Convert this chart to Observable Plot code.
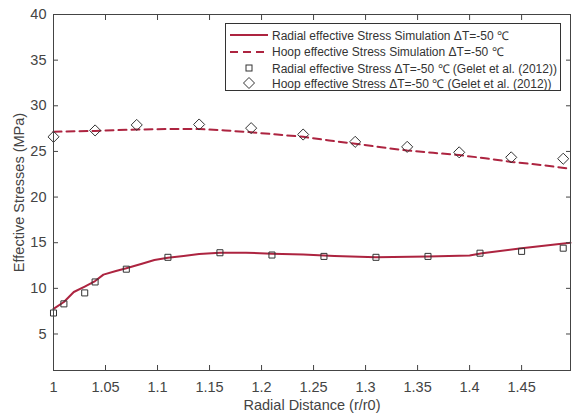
<!DOCTYPE html>
<html>
<head>
<meta charset="utf-8">
<script src="https://cdn.jsdelivr.net/npm/d3@7"></script>
<script src="https://cdn.jsdelivr.net/npm/@observablehq/plot@0.6"></script>
<style>
  html, body { margin: 0; padding: 0; background: #fff; }
  #wrap { position: relative; width: 577px; height: 413px; font-family: "Liberation Sans", Arial, sans-serif; }
  #legend { position: absolute; left: 225px; top: 23px; width: 336px; height: 68px; border: 1px solid #333; background: #fff; box-sizing: border-box; }
  .row { position: absolute; left: 0; height: 16px; display: flex; align-items: center; font-size: 12px; color: #333; white-space: nowrap; }
  .row svg { margin-left: 4px; margin-right: 4px; }
</style>
</head>
<body>
<div id="wrap"></div>
<script>
// Simulation curves
const radialSimX = [1.000, 1.010, 1.0195, 1.030, 1.040, 1.048, 1.060, 1.070, 1.085, 1.097, 1.110, 1.125, 1.140, 1.160, 1.185, 1.210, 1.240, 1.270, 1.310, 1.360, 1.400, 1.412, 1.450, 1.497];
const radialSimY = [7.75, 8.5, 9.6, 10.2, 10.8, 11.5, 11.9, 12.2, 12.7, 13.1, 13.35, 13.55, 13.75, 13.9, 13.9, 13.8, 13.7, 13.55, 13.4, 13.5, 13.6, 13.85, 14.4, 15.0];
const hoopSimX = [1.000, 1.040, 1.080, 1.110, 1.140, 1.165, 1.190, 1.215, 1.240, 1.265, 1.290, 1.315, 1.340, 1.365, 1.390, 1.415, 1.440, 1.470, 1.497];
const hoopSimY = [27.15, 27.25, 27.4, 27.45, 27.45, 27.3, 27.1, 26.85, 26.6, 26.2, 25.85, 25.45, 25.1, 24.85, 24.6, 24.25, 23.85, 23.5, 23.1];
// Gelet et al. (2012) data
const radialObsX = [1.00, 1.01, 1.03, 1.04, 1.07, 1.11, 1.16, 1.21, 1.26, 1.31, 1.36, 1.41, 1.45, 1.49];
const radialObsY = [7.3, 8.3, 9.5, 10.7, 12.1, 13.4, 13.9, 13.65, 13.5, 13.4, 13.5, 13.85, 14.05, 14.4];
const hoopObsX = [1.00, 1.04, 1.08, 1.14, 1.19, 1.24, 1.29, 1.34, 1.39, 1.44, 1.49];
const hoopObsY = [26.6, 27.3, 27.9, 27.95, 27.55, 26.85, 26.05, 25.5, 24.9, 24.35, 24.2];
// Axes
const xTicks = [1, 1.05, 1.1, 1.15, 1.2, 1.25, 1.3, 1.35, 1.4, 1.45];
const xTickLabels = ["1", "1.05", "1.1", "1.15", "1.2", "1.25", "1.3", "1.35", "1.4", "1.45"];
const yTicks = [5, 10, 15, 20, 25, 30, 35, 40];
const xDomain = [1, 1.497];
const yDomain = [1, 40];
const legendLabels = [
  "Radial effective Stress Simulation \u0394T=-50 \u2103",
  "Hoop effective Stress Simulation \u0394T=-50 \u2103",
  "Radial effective Stress \u0394T=-50 \u2103 (Gelet et al. (2012))",
  "Hoop effective Stress \u0394T=-50 \u2103 (Gelet et al. (2012))"
];

const red = "#ad2440";
const ink = "#333";
const toRows = (xs, ys) => xs.map((x, i) => ({x, y: ys[i]}));
const radialSim = toRows(radialSimX, radialSimY);
const hoopSim = toRows(hoopSimX, hoopSimY);
const radialObs = toRows(radialObsX, radialObsY);
const hoopObs = toRows(hoopObsX, hoopObsY);
const fmtX = d => xTickLabels[xTicks.indexOf(d)] ?? "";

const chart = Plot.plot({
  width: 577,
  height: 413,
  marginLeft: 53,
  marginRight: 7,
  marginTop: 14,
  marginBottom: 43,
  style: {fontFamily: "Liberation Sans, Arial, sans-serif", color: "#444", background: "#fff"},
  x: {domain: xDomain},
  y: {domain: yDomain},
  marks: [
    Plot.line(radialSim, {x: "x", y: "y", stroke: red, strokeWidth: 2}),
    Plot.line(hoopSim, {x: "x", y: "y", stroke: red, strokeWidth: 2, strokeDasharray: "8,5"}),
    Plot.dot(radialObs, {x: "x", y: "y", symbol: "square", r: 3.4, stroke: ink, strokeWidth: 1, fill: "none"}),
    Plot.dot(hoopObs, {x: "x", y: "y", symbol: "diamond2", r: 5, stroke: ink, strokeWidth: 1, fill: "none"}),
    Plot.axisX({ticks: xTicks, tickSize: 0, tickPadding: 11, tickFormat: fmtX, fontSize: 12, label: "Radial Distance (r/r0)", labelAnchor: "center", labelArrow: "none", labelOffset: 39}),
    Plot.axisX({ticks: xTicks, tickSize: -5, tickFormat: () => "", label: null, stroke: "#444"}),
    Plot.axisX({anchor: "top", ticks: xTicks, tickSize: -5, tickFormat: () => "", label: null, stroke: "#444"}),
    Plot.axisY({ticks: yTicks, tickSize: 0, tickPadding: 7, fontSize: 12, label: "Effective Stresses (MPa)", labelAnchor: "center", labelArrow: "none", labelOffset: 40}),
    Plot.axisY({ticks: yTicks, tickSize: -5, tickFormat: () => "", label: null, stroke: "#444"}),
    Plot.axisY({anchor: "right", ticks: yTicks, tickSize: -5, tickFormat: () => "", label: null, stroke: "#444"}),
    Plot.frame({stroke: "#444", strokeWidth: 1})
  ]
});
chart.querySelectorAll("[aria-label$='axis label'] text, g[aria-label$='label'] text").forEach(t => t.setAttribute("font-size", "14.5"));
const wrap = document.getElementById("wrap");
wrap.appendChild(chart);

// Legend
const legend = document.createElement("div");
legend.id = "legend";
const rowTops = [3, 19.5, 36, 51];
const sample = i => {
  if (i === 0) return `<svg width="38" height="10"><line x1="0" y1="5" x2="38" y2="5" stroke="${red}" stroke-width="2"/></svg>`;
  if (i === 1) return `<svg width="38" height="10"><line x1="0" y1="5" x2="38" y2="5" stroke="${red}" stroke-width="2" stroke-dasharray="8,5"/></svg>`;
  if (i === 2) return `<svg width="38" height="12"><rect x="16" y="3" width="6" height="6" fill="none" stroke="${ink}" stroke-width="1"/></svg>`;
  return `<svg width="38" height="14"><path d="M19,1.5L24.5,7L19,12.5L13.5,7Z" fill="none" stroke="${ink}" stroke-width="1"/></svg>`;
};
legendLabels.forEach((lab, i) => {
  const r = document.createElement("div");
  r.className = "row";
  r.style.top = rowTops[i] + "px";
  r.innerHTML = sample(i) + `<span>${lab}</span>`;
  legend.appendChild(r);
});
wrap.appendChild(legend);
</script>
</body>
</html>
